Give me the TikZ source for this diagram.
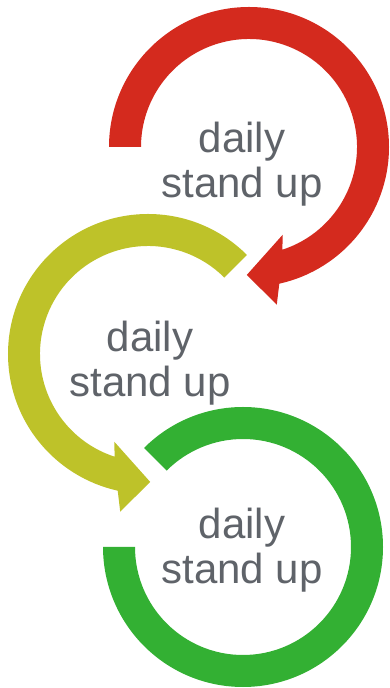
\documentclass[tikz,border=0pt]{standalone}
\usepackage{fontspec}
\setmainfont{Liberation Sans}
\definecolor{redc}{HTML}{D42A1E}
\definecolor{olivec}{HTML}{BEC229}
\definecolor{greenc}{HTML}{33B033}
\definecolor{textc}{HTML}{5F6369}
\begin{document}
\begin{tikzpicture}[
  lbl/.style={text=textc, align=center, inner sep=0pt,
    font=\fontsize{42pt}{45pt}\selectfont}
]
\useasboundingbox (0pt,0pt) rectangle (389pt,688pt);
% red arrow
\begin{scope}[shift={(249pt,541pt)}]
\fill[redc] (180:140pt) arc[start angle=180, end angle=-77.5, radius=140pt]
  -- (-80:160pt) -- (-91:128pt) -- (-69:94pt) -- (-72:108pt)
  arc[start angle=-72, end angle=180, radius=108pt] -- cycle;
\end{scope}
% olive arrow
\begin{scope}[shift={(148pt,334pt)}]
\fill[olivec] (45:140pt) arc[start angle=45, end angle=257.5, radius=140pt]
  -- (260:160pt) -- (271:128pt) -- (249:94pt) -- (252:108pt)
  arc[start angle=252, end angle=45, radius=108pt] -- cycle;
\end{scope}
% green ring
\begin{scope}[shift={(243pt,141pt)}]
\fill[greenc] (135:140pt) arc[start angle=135, end angle=-180, radius=140pt]
  -- (-180:108pt) arc[start angle=-180, end angle=135, radius=108pt] -- cycle;
\end{scope}
\node[lbl] (t1) at (242pt,524pt) {daily\\stand up};
\node[lbl] (t2) at (150pt,325pt) {daily\\stand up};
\node[lbl] (t3) at (242pt,138pt) {daily\\stand up};
\end{tikzpicture}
\end{document}
